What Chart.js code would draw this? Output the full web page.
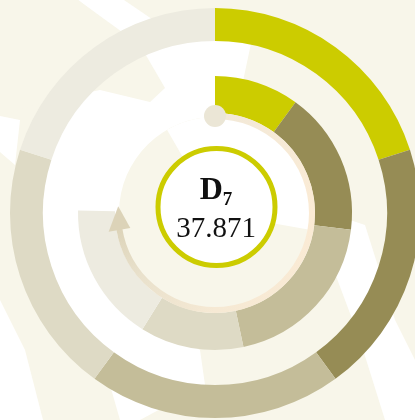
<!DOCTYPE html>
<html>
<head>
<meta charset="utf-8">
<script src="https://cdn.jsdelivr.net/npm/chart.js@4.4.1/dist/chart.umd.min.js"></script>
<style>
  html, body { margin: 0; padding: 0; width: 415px; height: 420px; overflow: hidden; background: #f8f6ea; }
  #marco { position: absolute; left: 0; top: 0; width: 430px; height: 426px; }
  .centro { position: absolute; left: 0; width: 432px; text-align: center; color: #111;
            font-family: "Liberation Serif", "DejaVu Serif", serif; line-height: 1; white-space: nowrap; }
  #titulo { top: 172px; font-size: 32px; font-weight: bold; }
  #titulo sub { font-size: 19px; vertical-align: -6px; line-height: 0; }
  #valor { top: 213px; font-size: 29px; }
</style>
</head>
<body>
<div id="marco"><canvas id="anillos"></canvas></div>
<div id="titulo" class="centro"></div>
<div id="valor" class="centro"></div>
<script>
// ==========================================
// Doble anillo de etapas con flecha de ciclo y valor central
// ==========================================
const etapas = ['Etapa 1', 'Etapa 2', 'Etapa 3', 'Etapa 4', 'Etapa 5'];
const valoresExterior = [20, 20, 20, 20, 20];
const valoresInterior = [36, 61, 71, 44, 59];
const tituloCentral = 'D';
const subindiceCentral = '7';
const valorCentral = '37.871';

const COLORES = ['#cccc00', '#968c55', '#c4bd99', '#dedac5', '#edebe0'];
const CREMA = '#f8f6ea';

document.getElementById('titulo').innerHTML = `${tituloCentral}<sub>${subindiceCentral}</sub>`;
document.getElementById('valor').textContent = valorCentral;

// grados tipo brújula (0 = arriba, sentido horario) a radianes del canvas
const rad = g => (g - 90) * Math.PI / 180;

// Fondo: crema con manchas blancas alrededor de los anillos
const fondo = {
    id: 'fondo',
    beforeDraw(chart) {
        const ctx = chart.ctx;
        const cx = (chart.chartArea.left + chart.chartArea.right) / 2;
        const cy = (chart.chartArea.top + chart.chartArea.bottom) / 2;
        const poligono = (pts) => {
            ctx.beginPath();
            ctx.moveTo(pts[0][0], pts[0][1]);
            pts.slice(1).forEach(p => ctx.lineTo(p[0], p[1]));
            ctx.closePath();
            ctx.fill();
        };
        const sector = (r0, r1, g0, g1) => {
            ctx.beginPath();
            ctx.arc(cx, cy, r1, rad(g0), rad(g1));
            if (r0 > 0) ctx.arc(cx, cy, r0, rad(g1), rad(g0), true);
            else ctx.lineTo(cx, cy);
            ctx.closePath();
            ctx.fill();
        };

        ctx.save();
        ctx.fillStyle = CREMA;
        ctx.fillRect(0, 0, chart.width, chart.height);

        ctx.fillStyle = '#ffffff';
        poligono([[78, 0], [124, 0], [215, 62], [215, 100], [150, 55]]);   // franja de arriba
        sector(96, 175, 205, 372);                                         // arco blanco a la izquierda
        sector(0, 96, 330, 460);                                           // dentro de la flecha, arriba
        poligono([[0, 116], [0, 152], [15, 165], [20, 120]]);              // entrada por el borde izquierdo
        poligono([[335, 215], [365, 225], [395, 320], [415, 360], [415, 420], [385, 420], [360, 340], [330, 260]]);
        poligono([[0, 300], [0, 420], [43, 420], [25, 350]]);
        poligono([[85, 290], [120, 300], [200, 350], [205, 385], [140, 420], [120, 420], [100, 350]]);

        // cuña crema que entra desde la esquina de arriba a la izquierda
        ctx.fillStyle = CREMA;
        poligono([[0, 0], [78, 0], [140, 45], [165, 88], [150, 102], [100, 90], [50, 100], [0, 116]]);
        ctx.restore();
    }
};

// Flecha circular, punto de inicio y círculo central
const flecha = {
    id: 'flecha',
    afterDatasetsDraw(chart) {
        const ctx = chart.ctx;
        const interior = chart.getDatasetMeta(2).controller;
        const cx = (chart.chartArea.left + chart.chartArea.right) / 2;
        const cy = (chart.chartArea.top + chart.chartArea.bottom) / 2;
        const r = interior.innerRadius - 3;
        const punto = (g, rr) => [cx + rr * Math.cos(rad(g)), cy + rr * Math.sin(rad(g))];

        ctx.save();
        const grad = ctx.createConicGradient(rad(0), cx, cy);
        grad.addColorStop(0, '#f2e9d8');
        grad.addColorStop(0.25, '#fbebd5');
        grad.addColorStop(0.5, '#f6e9d4');
        grad.addColorStop(0.64, '#e9e1cc');
        grad.addColorStop(0.73, '#dcd3b8');
        grad.addColorStop(1, '#dcd3b8');
        ctx.strokeStyle = grad;
        ctx.lineWidth = 6;
        ctx.beginPath();
        ctx.arc(cx, cy, r, rad(0), rad(261));
        ctx.stroke();

        // punta de flecha
        const punta = punto(274, r);
        const b1 = punto(260, r - 11);
        const b2 = punto(260, r + 11);
        ctx.fillStyle = '#dcd3b8';
        ctx.beginPath();
        ctx.moveTo(punta[0], punta[1]);
        ctx.lineTo(b1[0], b1[1]);
        ctx.lineTo(b2[0], b2[1]);
        ctx.closePath();
        ctx.fill();

        // punto de inicio
        const inicio = punto(0, r);
        ctx.fillStyle = '#ebe6d6';
        ctx.beginPath();
        ctx.arc(inicio[0], inicio[1], 11, 0, Math.PI * 2);
        ctx.fill();

        // círculo central
        ctx.fillStyle = '#ffffff';
        ctx.strokeStyle = '#cccc00';
        ctx.lineWidth = 5;
        ctx.beginPath();
        ctx.arc(cx + 1.5, cy - 6, 58.5, 0, Math.PI * 2);
        ctx.fill();
        ctx.stroke();
        ctx.restore();
    }
};

new Chart(document.getElementById('anillos'), {
    type: 'doughnut',
    data: {
        labels: etapas,
        datasets: [
            { data: valoresExterior, backgroundColor: COLORES, borderWidth: 0, weight: 33 },
            // separación entre los dos anillos
            { data: [1], backgroundColor: 'rgba(0,0,0,0)', borderWidth: 0, weight: 35 },
            { data: valoresInterior, backgroundColor: COLORES, borderWidth: 0, weight: 37, circumference: 271 }
        ]
    },
    options: {
        responsive: true,
        maintainAspectRatio: false,
        animation: false,
        cutout: 100,
        layout: { padding: { left: 10, right: 10, top: 8, bottom: 8 } },
        events: [],
        plugins: { legend: { display: false }, tooltip: { enabled: false } }
    },
    plugins: [fondo, flecha]
});
</script>
</body>
</html>
